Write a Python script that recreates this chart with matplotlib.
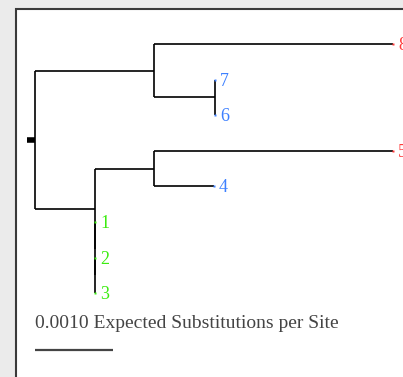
import matplotlib
matplotlib.use("Agg")
import matplotlib.pyplot as plt
from matplotlib.patches import Rectangle

# tree in newick form (branch lengths in substitutions per site)
newick = "((8:0.00306,(7:0,6:0):0.00078):0.00153,((5:0.00306,4:0.00076):0.00076,(1:0,(2:0,3:0):0):0):0.00077):0.0001;"
tip_colors = {"8": "#ff3a3a", "5": "#ff3a3a",
              "7": "#3d80ff", "6": "#3d80ff", "4": "#3d80ff",
              "1": "#3cec10", "2": "#3cec10", "3": "#3cec10"}
scale_length = 0.0010
scale_text = "0.0010 Expected Substitutions per Site"


def parse(s):
    # tiny newick parser -> dict nodes
    pos = 0

    def node():
        nonlocal pos
        n = {"children": [], "name": "", "len": 0.0}
        if s[pos] == "(":
            pos += 1
            while True:
                n["children"].append(node())
                if s[pos] == ",":
                    pos += 1
                else:
                    pos += 1  # ')'
                    break
        start = pos
        while s[pos] not in ":,);":
            pos += 1
        n["name"] = s[start:pos]
        if s[pos] == ":":
            pos += 1
            start = pos
            while s[pos] not in ",);":
                pos += 1
            n["len"] = float(s[start:pos])
        return n

    return node()


root = parse(newick)

leaves = []


def layout(n, x0):
    n["x0"] = x0
    n["x"] = x0 + n["len"]
    if not n["children"]:
        n["y"] = len(leaves)
        leaves.append(n)
    else:
        for c in n["children"]:
            layout(c, n["x"])
        n["y"] = (n["children"][0]["y"] + n["children"][-1]["y"]) / 2


layout(root, -root["len"])

W, H = 403, 377
fig = plt.figure(figsize=(W / 100, H / 100), dpi=100)
fig.patch.set_facecolor("#ebebeb")

# white panel with dark frame (runs off the right and bottom edges)
fig.patches.append(Rectangle((16 / W, -0.1), 1, 1.1 - 9 / H, transform=fig.transFigure,
                             facecolor="white", edgecolor="#3a3a3a", linewidth=1.5,
                             zorder=-10))

ax = fig.add_axes([0, 0, 1, 1])
ax.set_axis_off()
px = 78 / scale_length  # pixels per unit
ax.set_xlim(-35 / px, (W - 35) / px)
step = 35.6
ax.set_ylim((H - 44) / step, -44 / step)


def draw(n):
    lw = 4 if n is root else 1.2
    ax.plot([n["x0"], n["x"]], [n["y"], n["y"]], color="black", lw=lw,
            solid_capstyle="butt", zorder=2)
    if n["children"]:
        ys = [c["y"] for c in n["children"]]
        ax.plot([n["x"], n["x"]], [min(ys), max(ys)], color="black", lw=1.2,
                solid_capstyle="butt", zorder=2)
        for c in n["children"]:
            draw(c)
    else:
        col = tip_colors[n["name"]]
        ax.plot([n["x"]], [n["y"]], marker="s", ms=1.6, color=col, mec="none", zorder=3)
        ax.text(n["x"] + 5 / px, n["y"] + 0.04, n["name"], color=col, fontsize=13,
                family="Liberation Serif", va="center", ha="left")


draw(root)

# scale bar
ybar = (350 - 44) / step
ax.plot([0, scale_length], [ybar, ybar], color="#444444", lw=1.6, solid_capstyle="butt")
ax.text(0, (323 - 44) / step, scale_text, color="#444444", fontsize=14,
        family="Liberation Serif", va="center", ha="left")

fig.savefig("out.png", dpi=100, facecolor=fig.get_facecolor())
